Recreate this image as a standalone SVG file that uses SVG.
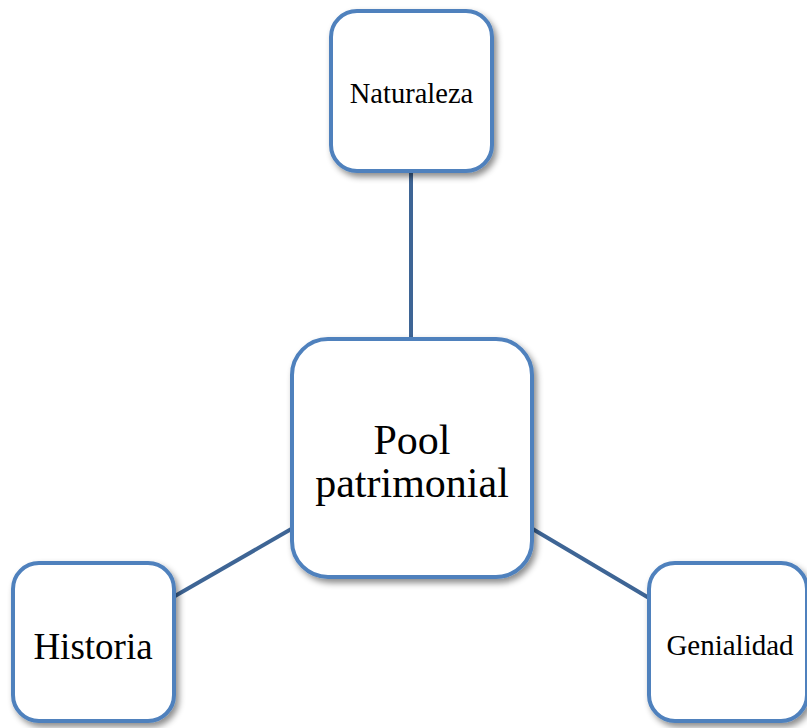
<svg xmlns="http://www.w3.org/2000/svg" width="807" height="728" viewBox="0 0 807 728">
<defs>
<filter id="sh" x="-20%" y="-20%" width="140%" height="140%">
<feDropShadow dx="3" dy="4" stdDeviation="3" flood-color="#000" flood-opacity="0.45"/>
</filter>
<style>
.box{fill:#fff;stroke:#4F81BD;stroke-width:4;filter:url(#sh)}
.t{font-family:"Liberation Serif","Times New Roman",serif;fill:#000;text-anchor:middle}
.c{stroke:#3E6595;stroke-width:4;fill:none}
</style>
</defs>
<g id="connectors">
<line class="c" x1="411" y1="172" x2="411" y2="339"/>
<line class="c" x1="175" y1="596" x2="293" y2="528"/>
<line class="c" x1="531" y1="528" x2="649" y2="598"/>
</g>
<g id="naturaleza">
<rect class="box" x="331" y="11" width="161" height="160" rx="26"/>
<text class="t" x="411.5" y="103" font-size="28.5">Naturaleza</text>
</g>
<g id="pool">
<rect class="box" x="292" y="339" width="240" height="238" rx="36"/>
<text class="t" x="412" y="454" font-size="42">Pool</text>
<text class="t" x="412" y="497" font-size="42">patrimonial</text>
</g>
<g id="historia">
<rect class="box" x="13" y="563" width="161" height="158" rx="26"/>
<text class="t" x="93" y="659" font-size="37">Historia</text>
</g>
<g id="genialidad">
<rect class="box" x="649" y="563" width="158" height="158" rx="26"/>
<text class="t" x="730" y="655" font-size="29">Genialidad</text>
</g>
</svg>
